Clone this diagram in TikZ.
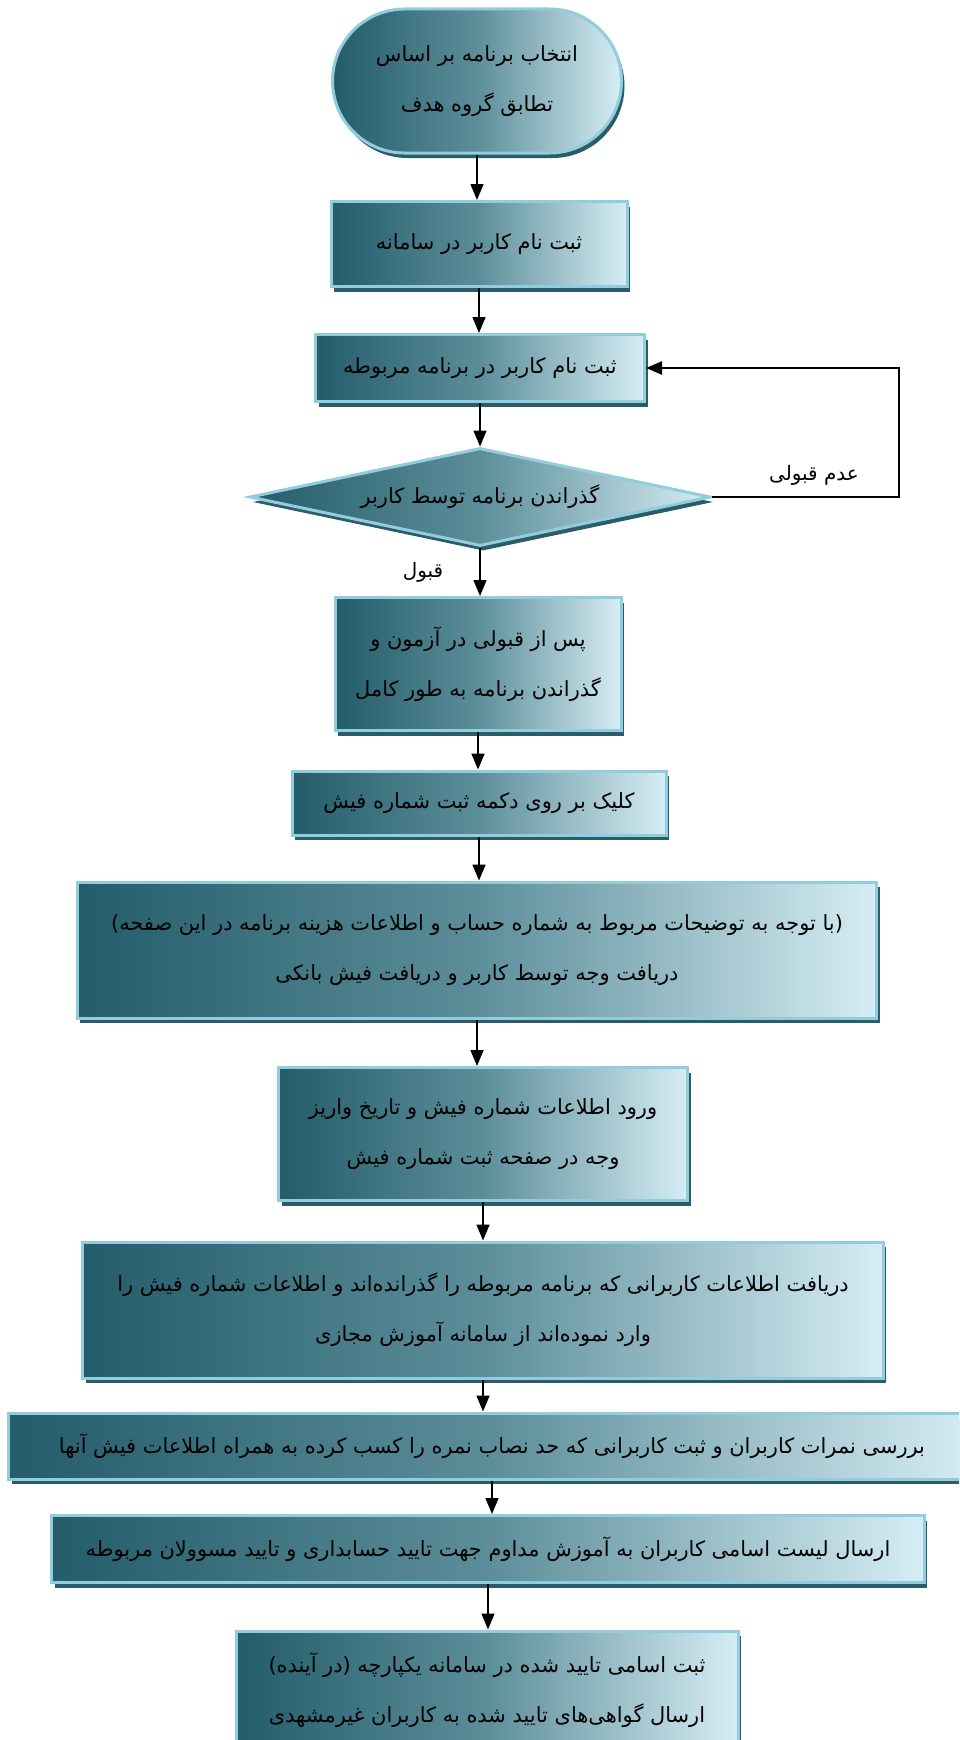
\documentclass[tikz,border=0pt]{standalone}
\usepackage{fontspec}
\newfontfamily\arabicfont[Script=Arabic]{DejaVu Sans}
\TeXXeTstate=1
\usetikzlibrary{shapes.geometric,shapes.misc,shadows,arrows.meta}

\definecolor{tealdark}{RGB}{36,92,106}
\definecolor{tealmid}{RGB}{92,142,154}
\definecolor{teallight}{RGB}{214,237,244}
\definecolor{tealedge}{RGB}{146,205,221}
\definecolor{tealshadow}{RGB}{45,92,105}

\tikzset{
  flowbox/.style={rectangle, draw=tealedge, line width=3bp,
    left color=tealdark, right color=teallight, middle color=tealmid,
    drop shadow={shadow xshift=3bp, shadow yshift=-5bp, fill=tealshadow, opacity=1},
    font=\arabicfont\fontsize{21}{50}\selectfont, align=center, inner sep=0pt},
  flow/.style={line width=1.5bp, -{Triangle[length=16bp,width=13bp]}},
  answer/.style={font=\arabicfont\fontsize{20}{24}\selectfont, inner sep=1bp},
}

\begin{document}
\begin{tikzpicture}[x=1bp,y=-1bp]
\useasboundingbox (0,0) rectangle (959,1740);
\clip (0,0) rectangle (959,1740);
\fill[white] (0,0) rectangle (959,1740);

\node[flowbox, rounded rectangle, minimum width=289bp, minimum height=144bp] (choose) at (477,81)
  {\beginR انتخاب برنامه بر اساس\endR\\\beginR تطابق گروه هدف\endR};
\node[flowbox, minimum width=296bp, minimum height=85bp] (signup) at (479,244)
  {\beginR ثبت نام کاربر در سامانه\endR};
\node[flowbox, minimum width=329bp, minimum height=67bp] (enrol) at (480,368)
  {\beginR ثبت نام کاربر در برنامه مربوطه\endR};
\node[flowbox, diamond, aspect=4.7, minimum width=461bp, minimum height=98bp] (pass) at (480,497)
  {\beginR گذراندن برنامه توسط کاربر\endR};
\node[flowbox, minimum width=286bp, minimum height=133bp] (after) at (478,664)
  {\beginR پس از قبولی در آزمون و\endR\\\beginR گذراندن برنامه به طور کامل\endR};
\node[flowbox, minimum width=374bp, minimum height=64bp] (click) at (479,803)
  {\beginR کلیک بر روی دکمه ثبت شماره فیش\endR};
\node[flowbox, minimum width=799bp, minimum height=136bp] (pay) at (477,950)
  {\beginR (با توجه به توضیحات مربوط به شماره حساب و اطلاعات هزینه برنامه در این صفحه)\endR\\\beginR دریافت وجه توسط کاربر و دریافت فیش بانکی\endR};
\node[flowbox, minimum width=409bp, minimum height=133bp] (entry) at (483,1134)
  {\beginR ورود اطلاعات شماره فیش و تاریخ واریز\endR\\\beginR وجه در صفحه ثبت شماره فیش\endR};
\node[flowbox, minimum width=800bp, minimum height=136bp] (fetch) at (483,1310)
  {\beginR دریافت اطلاعات کاربرانی که برنامه مربوطه را گذرانده‌اند و اطلاعات شماره فیش را\endR\\\beginR وارد نموده‌اند از سامانه آموزش مجازی\endR};
\node[flowbox, minimum width=966bp, minimum height=66bp] (grades) at (492,1446)
  {\beginR بررسی نمرات کاربران و ثبت کاربرانی که حد نصاب نمره را کسب کرده به همراه اطلاعات فیش آنها\endR};
\node[flowbox, minimum width=872bp, minimum height=67bp] (send) at (488,1549)
  {\beginR ارسال لیست اسامی کاربران به آموزش مداوم جهت تایید حسابداری و تایید مسوولان مربوطه\endR};
\node[flowbox, minimum width=502bp, minimum height=118bp] (record) at (487,1690)
  {\beginR ثبت اسامی تایید شده در سامانه یکپارچه (در آینده)\endR\\\beginR ارسال گواهی‌های تایید شده به کاربران غیرمشهدی\endR};

% arrows down the chart
\draw[flow] (choose.south) -- (choose.south |- signup.north);
\draw[flow] (signup.south) -- (signup.south |- enrol.north);
\draw[flow] (enrol.south) -- (enrol.south |- pass.north);
\draw[flow] (pass.south) -- (pass.south |- after.north);
\draw[flow] (after.south) -- (after.south |- click.north);
\draw[flow] (click.south) -- (click.south |- pay.north);
\draw[flow] (pay.south) -- (pay.south |- entry.north);
\draw[flow] (entry.south) -- (entry.south |- fetch.north);
\draw[flow] (fetch.south) -- (fetch.south |- grades.north);
\draw[flow] (grades.south) -- (grades.south |- send.north);
\draw[flow] (send.south) -- (send.south |- record.north);

% not accepted: back to enrolment
\coordinate (back) at (899,497);
\draw[flow, line width=2.5bp] (pass.east) -- (back) |- (enrol.east);
\node[answer] (failed) at (814,475) {\beginR عدم قبولی\endR};
\node[answer] (passed) at (423,572) {\beginR قبول\endR};
\end{tikzpicture}
\end{document}
